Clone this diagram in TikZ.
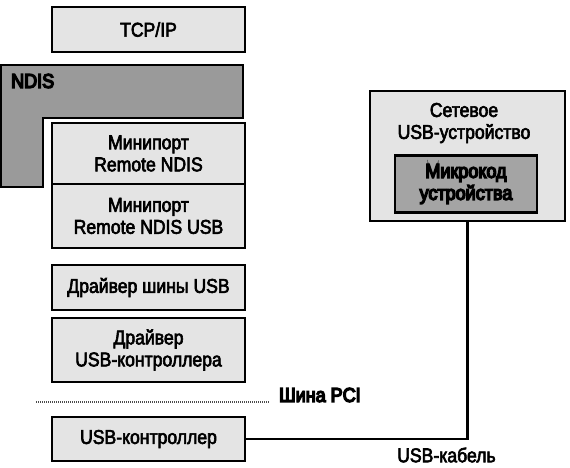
\documentclass[tikz,border=0pt]{standalone}
\usepackage{fontspec}
\setmainfont{Liberation Sans}[FakeStretch=0.88, UprightFeatures={FakeBold=3}]
\newfontfamily\boldfam{Liberation Sans}[FakeStretch=0.9, UprightFeatures={FakeBold=7}]
\definecolor{boxgray}{HTML}{E4E4E4}
\definecolor{darkgray1}{HTML}{9A9A9A}
\definecolor{darkgray2}{HTML}{A4A4A4}
\begin{document}
\begin{tikzpicture}[x=1pt,y=-1pt,
  txt/.style={font=\fontsize{20}{22}\selectfont, align=center, inner sep=0pt},
  box/.style={txt, draw=black, line width=2.8pt, fill=boxgray, minimum width=193pt},
  darkbox/.style={txt, font=\boldfam\fontsize{20}{22}\selectfont, draw=black, line width=2.8pt, fill=darkgray2, minimum width=142pt, minimum height=57pt},
  ndisshape/.style={draw=black, line width=2.8pt, fill=darkgray1},
  wire/.style={draw=black, line width=2.2pt},
  pciline/.style={draw=black!70, line width=1.2pt, dash pattern=on 1.2pt off 0.8pt},
  boldlabel/.style={txt, font=\boldfam\fontsize{20}{22}\selectfont}
]
\useasboundingbox (0,0) rectangle (570,467);
% NDIS L-shape
\draw[ndisshape] (1,65) -- (243,65) -- (243,118) -- (43,118) -- (43,187) -- (1,187) -- cycle;
\node[boldlabel, anchor=west] (ndis) at (11,81) {NDIS};
% left stack
\node[box, minimum height=45pt] (tcp) at (148.5,29.5) {TCP/IP};
\node[box, minimum height=61pt] (mini1) at (148.5,153.5) {Минипорт\\Remote NDIS};
\node[box, minimum height=64pt] (mini2) at (148.5,216) {Минипорт\\Remote NDIS USB};
\node[box, minimum height=45pt] (bus) at (148.5,287.5) {Драйвер шины USB};
\node[box, minimum height=64pt] (drv) at (148.5,350) {Драйвер\\USB-контроллера};
\node[box, minimum height=44pt] (ctrl) at (148.5,439) {USB-контроллер};
% PCI bus
\coordinate (pciA) at (36,402);
\coordinate (pciB) at (269,402);
\draw[pciline] (pciA) -- (pciB);
\node[boldlabel, anchor=west] (pci) at (279,395) {Шина PCI};
% device
\node[box, minimum width=195pt, minimum height=130pt] (dev) at (467.5,156) {};
\node[txt] (devlabel) at (464,123) {Сетевое\\USB-устройство};
\node[darkbox] (fw) at (466,184) {Микрокод\\устройства};
% cable
\draw[wire] (ctrl.east) -| (dev.south);
\node[txt, anchor=west] (cable) at (397,455) {USB-кабель};
\end{tikzpicture}
\end{document}
